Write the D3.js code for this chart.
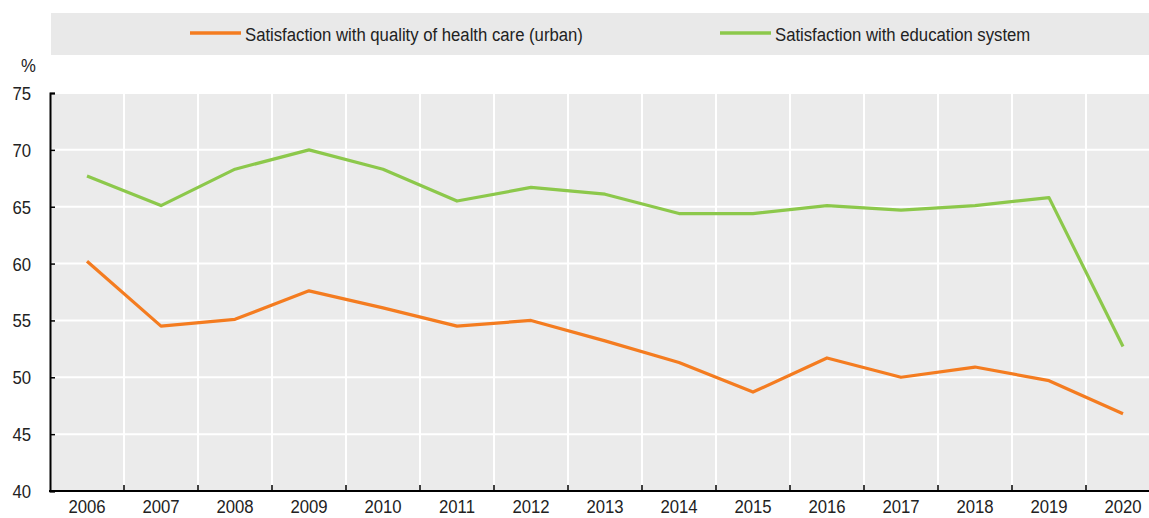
<!DOCTYPE html>
<html><head><meta charset="utf-8">
<script src="https://cdn.jsdelivr.net/npm/d3@7"></script>
<style>body{margin:0;background:#fff}svg{display:block;font-family:"Liberation Sans",Arial,sans-serif}</style>
</head><body><svg id="c" width="1149" height="518"></svg>
<script>
const years = ["2006","2007","2008","2009","2010","2011","2012","2013","2014","2015","2016","2017","2018","2019","2020"];
const healthUrban = [60.2,54.5,55.1,57.6,56.1,54.5,55.0,53.2,51.3,48.7,51.7,50.0,50.9,49.7,46.8];
const education = [67.7,65.1,68.3,70.0,68.3,65.5,66.7,66.1,64.4,64.4,65.1,64.7,65.1,65.8,52.7];
const yTicks = [40,45,50,55,60,65,70,75];
const seriesNames = ["Satisfaction with quality of health care (urban)","Satisfaction with education system"];
const colors = ["#f47c20","#8cc84b"];

(function(){
const svg = d3.select("#c");
const W = 1149, pl = 50, pt = 93, pb = 491;
const FS = 19, SX = 0.88;
const x = d3.scaleBand().domain(years).range([pl, pl + 74*15]).padding(0);
const y = d3.scaleLinear().domain([40,75]).range([pb, pt]);

function narrow(sel, xPos){
  sel.attr("font-size",FS).attr("fill","#222").attr("font-family","Liberation Sans, Arial, sans-serif")
     .attr("transform",`scale(${SX},1)`).attr("x",xPos/SX);
}

// legend
svg.append("rect").attr("x",51).attr("y",13).attr("width",W-51).attr("height",42).attr("fill","#e9e9e9");
const leg = [{x:190},{x:720}];
seriesNames.forEach((n,i)=>{
  svg.append("line").attr("x1",leg[i].x).attr("x2",leg[i].x+51).attr("y1",33).attr("y2",33)
    .attr("stroke",colors[i]).attr("stroke-width",3.5);
  svg.append("text").attr("y",34).attr("dy","0.35em").text(n).call(narrow, leg[i].x+55);
});

// plot bg
svg.append("rect").attr("x",pl).attr("y",pt).attr("width",W-pl).attr("height",pb-pt).attr("fill","#ebebeb");
// grid
svg.append("g").selectAll("line").data(yTicks.slice(1)).join("line")
  .attr("x1",pl).attr("x2",W).attr("y1",d=>y(d)).attr("y2",d=>y(d)).attr("stroke","#fff").attr("stroke-width",2);
svg.append("g").selectAll("line").data(years.slice(1)).join("line")
  .attr("x1",d=>x(d)).attr("x2",d=>x(d)).attr("y1",pt).attr("y2",pb).attr("stroke","#fff").attr("stroke-width",2);

// lines
const line = d3.line().x((d,i)=>x(years[i])+x.bandwidth()/2).y(d=>y(d));
[healthUrban, education].forEach((s,i)=>{
  svg.append("path").datum(s).attr("d",line).attr("fill","none").attr("stroke",colors[i])
    .attr("stroke-width",3.2).attr("stroke-linejoin","round");
});

// axes
const yAxis = d3.axisLeft(y).tickValues(yTicks).tickSize(-5).tickPadding(19);
const gy = svg.append("g").attr("transform",`translate(${pl},0)`).call(yAxis);
gy.select(".domain").attr("stroke","#000").attr("stroke-width",2);
gy.selectAll(".tick line").attr("stroke","#000").attr("stroke-width",1.5);
gy.selectAll(".tick text").attr("dy","0.34em").call(narrow, -19);

const xAxis = d3.axisBottom(x).tickSize(0).tickPadding(9);
const gx = svg.append("g").attr("transform",`translate(0,${pb})`).call(xAxis);
gx.select(".domain").remove();
gx.selectAll(".tick text").call(narrow, 0);
svg.append("line").attr("x1",pl-1).attr("x2",W).attr("y1",pb).attr("y2",pb).attr("stroke","#000").attr("stroke-width",2);
svg.append("g").selectAll("line").data(years.slice(1)).join("line")
  .attr("x1",d=>x(d)).attr("x2",d=>x(d)).attr("y1",pb).attr("y2",pb-6).attr("stroke","#000").attr("stroke-width",1.5);

svg.append("text").attr("y",65).attr("dy","0.35em").attr("text-anchor","middle").text("%").call(narrow, 28.5);
})();
</script></body></html>
